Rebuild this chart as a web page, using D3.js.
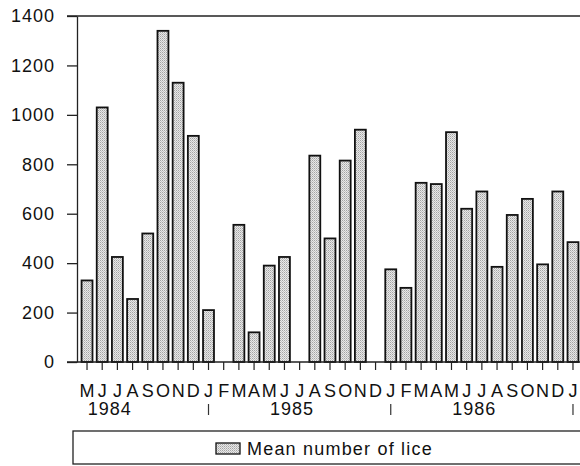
<!DOCTYPE html>
<html>
<head>
<meta charset="utf-8">
<script src="https://cdn.jsdelivr.net/npm/d3@7/dist/d3.min.js"></script>
<style>
	body { margin: 0; background: #fff; }
	svg { display: block; font-family: "Liberation Sans", Arial, sans-serif; }
</style>
</head>
<body>
<div id="svg-container"></div>
<script>
// DATA
const months = ['M','J','J','A','S','O','N','D',
	'J','F','M','A','M','J','J','A','S','O','N','D',
	'J','F','M','A','M','J','J','A','S','O','N','D',
	'J'];
// mean number of lice per month, May 1984 - Jan 1987 (null = no sample)
const lice = [330, 1030, 425, 255, 520, 1340, 1130, 915,
	210, null, 555, 120, 390, 425, null, 835, 500, 815, 940, null,
	375, 300, 725, 720, 930, 620, 690, 385, 595, 660, 395, 690,
	485];
const years = ['1984', '1985', '1986'];
// index of each year's January (may be before the first month shown)
const yearStart = [-4, 8, 20];
const yTicks = [0, 200, 400, 600, 800, 1000, 1200, 1400];
const legendLabel = 'Mean number of lice';

function visualizeData(height = 466, width = 580) {
	const h = height;
	const w = width;
	const left = 77;
	const top = 16;
	const bottom = 362;
	const fs = 18;

	const svg = d3.select('#svg-container').append('svg')
		.attr('height', h)
		.attr('width', w);

	// stipple fill
	const pat = svg.append('defs').append('pattern')
		.attr('id', 'stipple')
		.attr('width', 2).attr('height', 2)
		.attr('patternUnits', 'userSpaceOnUse');
	pat.append('rect').attr('width', 2).attr('height', 2).attr('fill', '#e8e8e8');
	pat.append('rect').attr('width', 1).attr('height', 1).attr('fill', '#a4a4a4');
	pat.append('rect').attr('x', 1).attr('y', 1).attr('width', 1).attr('height', 1).attr('fill', '#c2c2c2');

	// scales
	const idx = d3.range(months.length);
	const xScale = d3.scaleBand()
		.domain(idx)
		.range([77.3, 582.7])
		.padding(0.28);
	const step = xScale.step();
	const cx = i => xScale(0) + xScale.bandwidth() / 2 + i * step;
	const yScale = d3.scaleLinear()
		.domain([0, 1400])
		.range([bottom, top]);

	// bars
	svg.selectAll('rect.bar')
		.data(idx.filter(i => lice[i] != null))
		.enter()
		.append('rect')
		.attr('class', 'bar')
		.attr('x', i => xScale(i))
		.attr('y', i => yScale(lice[i]))
		.attr('width', xScale.bandwidth())
		.attr('height', i => bottom - yScale(lice[i]))
		.attr('fill', 'url(#stipple)')
		.attr('stroke', '#111')
		.attr('stroke-width', 1.8);

	// frame
	svg.append('line')
		.attr('x1', 67).attr('x2', w).attr('y1', top).attr('y2', top)
		.attr('stroke', '#222').attr('stroke-width', 1.5);

	// axes
	const yAxis = d3.axisLeft(yScale)
		.tickValues(yTicks)
		.tickFormat(d3.format('d'))
		.tickSize(10)
		.tickPadding(12)
		.tickSizeOuter(0);
	const gy = svg.append('g')
		.attr('transform', `translate(${left},0)`)
		.call(yAxis);
	gy.selectAll('text').attr('font-size', fs).attr('letter-spacing', 1).attr('fill', '#111')
		.attr('font-family', 'Liberation Sans, Arial, sans-serif');
	gy.selectAll('line, path').attr('stroke', '#222').attr('stroke-width', 1.3);

	const xAxis = d3.axisBottom(xScale)
		.tickSize(8)
		.tickPadding(14)
		.tickSizeOuter(0)
		.tickFormat(i => months[i]);
	const gx = svg.append('g')
		.attr('transform', `translate(0,${bottom})`)
		.call(xAxis);
	gx.select('.domain').remove();
	gx.selectAll('text').attr('font-size', fs).attr('fill', '#111')
		.attr('font-family', 'Liberation Sans, Arial, sans-serif');
	gx.selectAll('line').attr('stroke', '#222').attr('stroke-width', 1.2);
	svg.append('line')
		.attr('x1', 67).attr('x2', w).attr('y1', bottom).attr('y2', bottom)
		.attr('stroke', '#222').attr('stroke-width', 1.5);

	// year separators and labels
	svg.selectAll('line.sep')
		.data(yearStart.slice(1).concat([32]))
		.enter()
		.append('line')
		.attr('class', 'sep')
		.attr('x1', d => cx(d)).attr('x2', d => cx(d))
		.attr('y1', 404).attr('y2', 415)
		.attr('stroke', '#333').attr('stroke-width', 1.2);
	svg.selectAll('text.year')
		.data(years)
		.enter()
		.append('text')
		.attr('class', 'year')
		.attr('x', (d, k) => (cx(yearStart[k]) + cx(yearStart[k] + 11)) / 2)
		.attr('y', 415)
		.attr('text-anchor', 'middle')
		.attr('font-size', fs)
		.attr('letter-spacing', 1)
		.attr('fill', '#111')
		.text(d => d);

	// legend
	svg.append('rect')
		.attr('x', 73).attr('y', 431).attr('width', 520).attr('height', 33)
		.attr('fill', 'none').attr('stroke', '#222').attr('stroke-width', 1.3);
	svg.append('rect')
		.attr('x', 216).attr('y', 443).attr('width', 24).attr('height', 11)
		.attr('fill', 'url(#stipple)').attr('stroke', '#111').attr('stroke-width', 1.3);
	svg.append('text')
		.attr('x', 247).attr('y', 455)
		.attr('font-size', fs)
		.attr('letter-spacing', 1.2)
		.attr('fill', '#111')
		.text(legendLabel);
}

document.addEventListener('DOMContentLoaded', () => {
	visualizeData();
});
</script>
</body>
</html>
